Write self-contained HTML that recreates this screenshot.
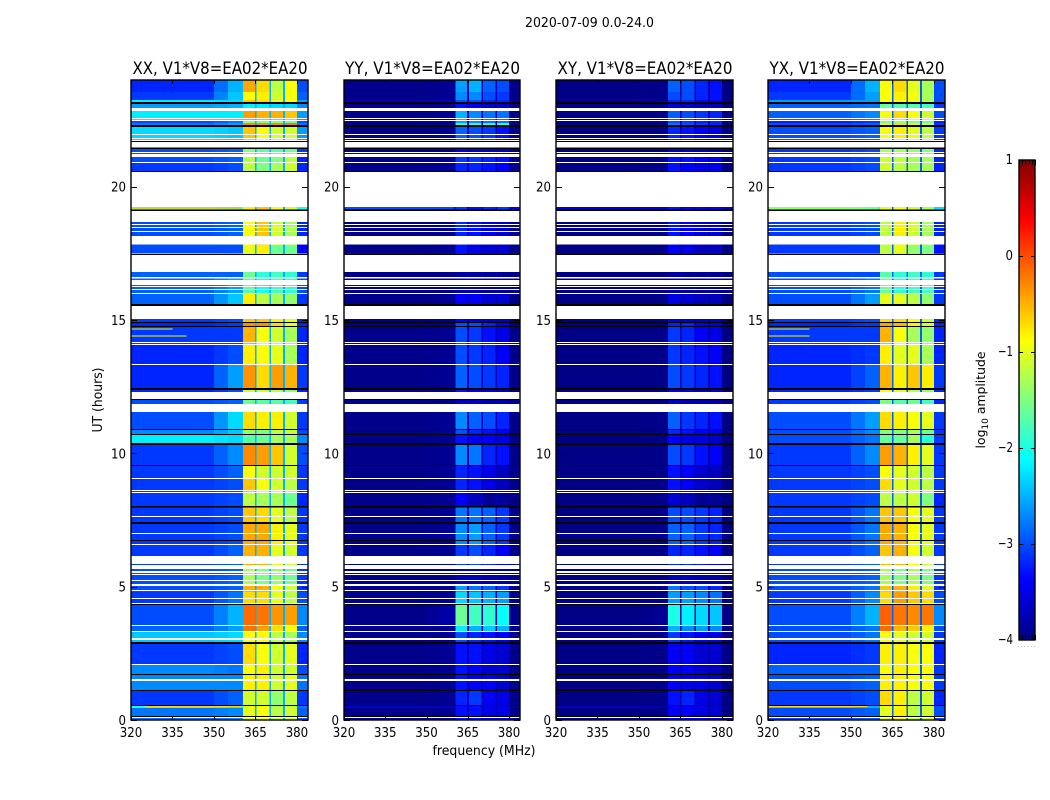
<!DOCTYPE html>
<html lang="en">
<head>
<meta charset="utf-8">
<title>2020-07-09 0.0-24.0</title>
<style>
html,body{margin:0;padding:0;background:#fff;width:1050px;height:800px;overflow:hidden}
svg{display:block}
text{font-family:"DejaVu Sans","Liberation Sans",sans-serif;fill:#000}
</style>
</head>
<body>
<svg id="chart" xmlns="http://www.w3.org/2000/svg" width="1050" height="800" viewBox="0 0 1050 800">
<text x="589.5" y="27" font-size="13" text-anchor="middle" textLength="129" lengthAdjust="spacingAndGlyphs">2020-07-09 0.0-24.0</text>
<text transform="translate(102,400) rotate(-90)" font-size="13" text-anchor="middle" textLength="65" lengthAdjust="spacingAndGlyphs">UT (hours)</text>
<text x="484" y="755" font-size="13" text-anchor="middle" textLength="103" lengthAdjust="spacingAndGlyphs">frequency (MHz)</text>
<text transform="translate(985,400) rotate(-90)" font-size="12.4" text-anchor="middle">log<tspan font-size="9" dy="3">10</tspan><tspan dy="-3"> amplitude</tspan></text>
</svg>
<script>
// ---- Chart data ----
const panelTitles = ['XX, V1*V8=EA02*EA20','YY, V1*V8=EA02*EA20','XY, V1*V8=EA02*EA20','YX, V1*V8=EA02*EA20'];
const panelNames = ['xx','yy','xy','yx'];
const xTicks = [320,335,350,365,380];
const yTicks = [0,5,10,15,20];
const colorTicks = [1,0,-1,-2,-3,-4];
const colorTickLabels = ['1','0','\u22121','\u22122','\u22123','\u22124'];
// frequency bins: background, shoulder, band edge, four sub-bands with one-channel gaps, upper tail
const freqEdges = [320,350,355,360.5,364.8,365.4,370,370.6,375,375.6,380,384];
// sub-band gap level per panel (log10 amplitude)
const gapLevels = [-2.5,-3.7,-3.8,-2.9];
// top edge (UT hours) of each time segment, last entry closes the range
const utEdges = [24,23.55,23.25,23.18,22.95,22.46,22.39,22.31,21.68,21.11,20.89,19.24,19.13,17.81,17.51,17.44,16.58,15.98,15.53,14.89,14.74,14.06,13.31,12.38,12,11.55,10.88,10.69,10.31,9.53,9.04,8.51,7.99,7.35,6.56,5.81,5.03,4.8,4.31,3.53,3.3,2.85,2.06,1.69,1.09,0.56,0.45,0];
// per segment: background, edge, sub-band 1-4, tail
const xxLevels = [
[-3.2,-2.5,-0.45,-0.7,-1.2,-0.9,-3.0],[-3.1,-2.4,-0.9,-0.8,-1.1,-0.9,-2.9],[-2.2,-2.3,-0.6,-0.7,-1.0,-0.9,-2.6],[-2.6,-2.5,-2.2,-2.2,-2.3,-2.3,-2.7],
[-2.2,-2.2,-0.4,-0.5,-0.5,-0.6,-2.6],[-3.0,-2.8,-1.5,-1.5,-1.5,-1.6,-3.0],[-2.8,-2.6,-0.3,-0.3,-0.3,-0.2,-2.8],[-2.3,-2.4,-0.6,-0.9,-1.1,-1.1,-2.6],
[-3.0,-2.9,-1.5,-1.7,-1.7,-1.6,-3.1],[-3.0,-2.9,-1.2,-1.6,-1.5,-1.2,-3.2],[-3.1,-3.0,-1.2,-1.5,-1.3,-1.1,-3.2],[-1.5,-1.7,-0.8,-0.6,-0.9,-1.1,-2.0],
[-3.0,-2.9,-0.9,-0.6,-1.1,-1.3,-3.2],[-3.0,-3.0,-1.0,-0.8,-1.6,-1.6,-3.4],[-2.2,-2.3,-1.0,-0.9,-1.4,-1.5,-2.6],[-2.9,-2.9,-1.6,-1.9,-1.8,-1.9,-3.1],
[-2.9,-2.6,-1.7,-2.0,-1.8,-1.9,-3.0],[-2.9,-2.4,-0.8,-1.2,-1.3,-1.4,-3.1],[-3.1,-3.0,-0.6,-0.6,-0.8,-1.0,-3.2],[-3.2,-3.1,-0.3,-0.3,-0.7,-1.0,-3.2],
[-3.1,-3.1,-0.5,-0.9,-1.1,-1.3,-3.2],[-3.2,-3.0,-0.8,-0.9,-1.0,-1.3,-3.2],[-3.2,-2.6,-0.35,-0.7,-0.4,-0.5,-3.1],[-3.2,-3.0,-1.1,-1.1,-1.2,-1.4,-3.2],
[-3.0,-2.9,-1.6,-1.7,-1.7,-1.8,-3.1],[-3.0,-2.3,-0.7,-0.8,-0.8,-1.1,-3.1],[-2.7,-2.4,-1.4,-1.5,-1.2,-1.2,-3.0],[-2.2,-2.3,-1.7,-1.6,-1.3,-1.3,-2.7],
[-3.1,-2.7,-0.3,-0.4,-0.6,-1.1,-3.0],[-3.1,-2.9,-0.9,-1.1,-1.1,-1.1,-3.1],[-3.1,-3.0,-0.6,-0.9,-1.1,-1.2,-3.1],[-3.1,-3.0,-1.2,-1.3,-1.3,-1.6,-3.2],
[-3.1,-3.0,-0.6,-0.7,-1.0,-1.2,-3.1],[-3.1,-3.0,-0.45,-0.45,-0.8,-1.0,-3.1],[-3.1,-2.9,-0.5,-0.5,-1.0,-1.1,-3.1],[-3.0,-2.9,-1.3,-1.5,-1.4,-1.6,-3.1],
[-3.0,-2.9,-0.5,-0.5,-0.9,-1.1,-3.1],[-3.1,-2.8,-0.7,-0.7,-1.0,-1.2,-3.0],[-3.0,-2.5,-0.15,-0.2,-0.35,-0.4,-2.7],[-2.9,-2.6,-0.2,-0.4,-0.7,-0.9,-2.9],
[-2.4,-2.3,-0.9,-0.9,-1.2,-1.3,-2.7],[-3.1,-3.0,-0.7,-0.9,-1.1,-1.0,-3.2],[-2.7,-2.8,-0.9,-0.8,-1.1,-1.1,-3.0],[-2.7,-2.7,-0.8,-0.8,-1.1,-1.0,-2.8],
[-3.1,-2.9,-1.1,-1.1,-1.4,-1.2,-3.1],[-2.0,-2.2,-1.0,-0.9,-1.3,-1.2,-2.8],[-2.8,-2.7,-1.0,-0.9,-1.2,-1.1,-2.9]];
const yyLevels = [
[-3.95,-3.9,-2.6,-2.5,-2.9,-3.0,-3.95],[-3.95,-3.9,-2.7,-2.7,-3.0,-3.1,-3.95],[-3.7,-3.7,-3.0,-3.0,-3.2,-3.2,-3.9],[-3.95,-3.9,-3.3,-3.4,-3.6,-3.6,-3.95],
[-3.95,-3.9,-2.5,-2.7,-2.8,-2.8,-3.95],[-3.95,-3.9,-2.6,-2.7,-2.8,-2.8,-3.95],[-3.95,-3.9,-1.9,-1.9,-1.9,-1.9,-3.95],[-3.95,-3.9,-2.9,-3.0,-3.1,-3.3,-3.95],
[-3.95,-3.9,-3.4,-3.5,-3.6,-3.6,-3.95],[-3.95,-3.9,-3.1,-3.1,-3.2,-3.3,-3.95],[-3.95,-3.9,-3.2,-3.2,-3.3,-3.4,-3.95],[-3.4,-3.4,-3.1,-3.3,-3.2,-3.1,-3.5],
[-3.95,-3.9,-3.2,-3.3,-3.5,-3.6,-3.95],[-3.95,-3.9,-3.3,-3.5,-3.6,-3.6,-3.95],[-3.7,-3.7,-3.3,-3.4,-3.4,-3.4,-3.9],[-3.95,-3.95,-3.8,-3.85,-3.85,-3.9,-3.95],
[-3.95,-3.95,-3.8,-3.8,-3.9,-3.9,-3.95],[-3.95,-3.9,-3.4,-3.4,-3.6,-3.6,-3.95],[-3.95,-3.9,-3.4,-3.5,-3.6,-3.7,-3.95],[-3.95,-3.9,-3.0,-3.0,-3.2,-3.4,-3.95],
[-3.95,-3.9,-3.0,-3.1,-3.3,-3.5,-3.95],[-3.95,-3.9,-3.0,-3.1,-3.2,-3.4,-3.95],[-3.95,-3.9,-2.9,-3.0,-3.1,-3.2,-3.95],[-3.95,-3.9,-3.3,-3.4,-3.5,-3.6,-3.95],
[-3.95,-3.95,-3.7,-3.7,-3.8,-3.8,-3.95],[-3.95,-3.9,-2.7,-2.9,-3.0,-3.2,-3.95],[-3.95,-3.9,-3.0,-3.2,-3.3,-3.4,-3.95],[-3.95,-3.9,-3.3,-3.4,-3.4,-3.5,-3.95],
[-3.95,-3.9,-2.7,-2.8,-3.2,-3.3,-3.95],[-3.95,-3.9,-3.2,-3.3,-3.5,-3.7,-3.95],[-3.95,-3.9,-3.2,-3.3,-3.5,-3.7,-3.95],[-3.95,-3.9,-3.4,-3.7,-3.9,-3.9,-3.95],
[-3.95,-3.9,-2.8,-2.8,-2.9,-3.1,-3.95],[-3.95,-3.9,-2.7,-2.6,-2.9,-3.1,-3.95],[-3.95,-3.9,-3.1,-3.0,-3.2,-3.4,-3.95],[-3.95,-3.95,-3.7,-3.7,-3.8,-3.8,-3.95],
[-3.95,-3.9,-2.6,-2.8,-2.9,-3.1,-3.95],[-3.95,-3.9,-2.3,-2.4,-2.5,-2.6,-3.95],[-3.95,-3.8,-1.6,-1.8,-1.9,-2.1,-3.95],[-3.95,-3.9,-2.2,-2.5,-2.4,-2.5,-3.95],
[-3.95,-3.9,-3.0,-3.2,-3.3,-3.4,-3.95],[-3.95,-3.9,-3.3,-3.3,-3.5,-3.6,-3.95],[-3.95,-3.9,-3.3,-3.4,-3.6,-3.6,-3.95],[-3.95,-3.9,-3.3,-3.4,-3.4,-3.6,-3.95],
[-3.95,-3.9,-3.2,-3.1,-3.4,-3.5,-3.95],[-3.6,-3.7,-3.3,-3.3,-3.5,-3.5,-3.9],[-3.95,-3.9,-3.3,-3.3,-3.5,-3.5,-3.95]];
const xyLevels = [
[-3.97,-3.95,-2.9,-3.0,-3.2,-3.3,-3.97],[-3.97,-3.95,-3.0,-3.0,-3.2,-3.3,-3.97],[-3.85,-3.85,-3.2,-3.2,-3.4,-3.4,-3.95],[-3.97,-3.95,-3.5,-3.6,-3.7,-3.7,-3.97],
[-3.97,-3.95,-2.9,-3.0,-3.1,-3.2,-3.97],[-3.97,-3.95,-3.0,-3.1,-3.2,-3.2,-3.97],[-3.97,-3.95,-2.8,-3.0,-3.1,-3.2,-3.97],[-3.97,-3.95,-3.2,-3.3,-3.4,-3.5,-3.97],
[-3.97,-3.95,-3.6,-3.6,-3.7,-3.8,-3.97],[-3.97,-3.95,-3.3,-3.3,-3.4,-3.5,-3.97],[-3.97,-3.95,-3.3,-3.4,-3.5,-3.5,-3.97],[-3.6,-3.6,-3.3,-3.4,-3.4,-3.4,-3.7],
[-3.97,-3.95,-3.3,-3.4,-3.6,-3.6,-3.97],[-3.97,-3.95,-3.4,-3.5,-3.7,-3.7,-3.97],[-3.8,-3.8,-3.4,-3.5,-3.6,-3.6,-3.95],[-3.97,-3.97,-3.85,-3.9,-3.9,-3.9,-3.97],
[-3.97,-3.97,-3.85,-3.9,-3.9,-3.9,-3.97],[-3.97,-3.95,-3.5,-3.6,-3.7,-3.7,-3.97],[-3.97,-3.95,-3.5,-3.6,-3.7,-3.7,-3.97],[-3.97,-3.95,-3.2,-3.2,-3.4,-3.5,-3.97],
[-3.97,-3.95,-3.1,-3.2,-3.4,-3.5,-3.97],[-3.97,-3.95,-3.1,-3.2,-3.3,-3.4,-3.97],[-3.97,-3.95,-3.0,-3.1,-3.2,-3.3,-3.97],[-3.97,-3.95,-3.4,-3.5,-3.6,-3.6,-3.97],
[-3.97,-3.97,-3.7,-3.8,-3.8,-3.85,-3.97],[-3.97,-3.95,-2.9,-3.1,-3.2,-3.3,-3.97],[-3.97,-3.95,-3.2,-3.3,-3.4,-3.5,-3.97],[-3.97,-3.95,-3.4,-3.5,-3.5,-3.6,-3.97],
[-3.97,-3.95,-3.0,-3.1,-3.3,-3.4,-3.97],[-3.97,-3.95,-3.3,-3.4,-3.6,-3.7,-3.97],[-3.97,-3.95,-3.3,-3.4,-3.6,-3.7,-3.97],[-3.97,-3.95,-3.6,-3.7,-3.9,-3.9,-3.97],
[-3.97,-3.95,-3.0,-3.0,-3.1,-3.2,-3.97],[-3.97,-3.95,-2.9,-2.9,-3.1,-3.2,-3.97],[-3.97,-3.95,-3.2,-3.2,-3.3,-3.4,-3.97],[-3.97,-3.97,-3.7,-3.7,-3.8,-3.8,-3.97],
[-3.97,-3.95,-2.8,-3.0,-3.0,-3.2,-3.97],[-3.97,-3.95,-2.6,-2.6,-2.7,-2.8,-3.97],[-3.97,-3.9,-2.0,-2.2,-2.3,-2.4,-3.97],[-3.97,-3.95,-2.5,-2.7,-2.6,-2.7,-3.97],
[-3.97,-3.95,-3.1,-3.3,-3.4,-3.5,-3.97],[-3.97,-3.95,-3.4,-3.4,-3.6,-3.6,-3.97],[-3.97,-3.95,-3.4,-3.4,-3.6,-3.7,-3.97],[-3.97,-3.95,-3.4,-3.5,-3.5,-3.6,-3.97],
[-3.97,-3.95,-3.3,-3.2,-3.5,-3.6,-3.97],[-3.7,-3.8,-3.4,-3.4,-3.5,-3.6,-3.95],[-3.97,-3.95,-3.4,-3.4,-3.5,-3.6,-3.97]];
const yxLevels = [
[-3.2,-2.5,-0.9,-0.7,-1.0,-1.3,-3.0],[-3.1,-2.6,-0.9,-0.8,-0.9,-1.3,-3.0],[-2.6,-2.6,-0.9,-0.9,-1.0,-1.3,-3.0],[-2.9,-2.8,-1.6,-1.7,-1.7,-1.8,-3.1],
[-2.9,-2.7,-0.9,-0.7,-0.9,-1.1,-3.0],[-3.2,-3.1,-1.5,-1.4,-1.5,-1.6,-3.2],[-3.0,-2.9,-0.8,-0.7,-0.8,-1.0,-3.1],[-3.0,-2.9,-0.9,-0.8,-1.0,-1.2,-3.1],
[-3.1,-3.0,-1.3,-1.3,-1.4,-1.5,-3.2],[-3.1,-3.0,-1.1,-1.2,-1.3,-1.3,-3.2],[-3.1,-3.0,-1.1,-1.2,-1.3,-1.3,-3.2],[-1.8,-2.0,-1.0,-0.9,-1.1,-1.3,-2.3],
[-3.1,-3.0,-1.2,-0.8,-1.1,-1.3,-3.2],[-3.1,-3.1,-1.2,-1.0,-1.4,-1.5,-3.3],[-2.6,-2.6,-1.1,-1.1,-1.4,-1.5,-2.9],[-3.0,-3.0,-1.7,-1.9,-1.8,-1.9,-3.1],
[-3.0,-2.8,-1.6,-1.9,-1.8,-1.8,-3.1],[-3.0,-2.6,-1.0,-1.0,-1.2,-1.4,-3.1],[-3.1,-3.0,-0.7,-0.7,-0.9,-1.1,-3.2],[-3.2,-3.1,-0.4,-0.5,-0.8,-1.1,-3.2],
[-3.1,-3.1,-0.5,-0.9,-1.3,-1.4,-3.2],[-3.2,-3.1,-0.8,-1.0,-1.0,-1.3,-3.2],[-3.2,-2.9,-0.5,-0.8,-0.6,-0.8,-3.1],[-3.2,-3.1,-0.9,-1.0,-1.2,-1.4,-3.2],
[-3.1,-3.0,-1.5,-1.7,-1.6,-1.8,-3.2],[-3.0,-2.6,-0.7,-0.8,-0.9,-1.0,-3.1],[-3.0,-2.7,-1.5,-1.5,-1.3,-1.6,-3.1],[-3.0,-2.8,-1.6,-1.6,-1.3,-1.9,-3.1],
[-3.1,-2.7,-0.4,-0.5,-0.8,-1.0,-3.1],[-3.1,-3.0,-0.9,-1.0,-1.1,-1.2,-3.1],[-3.1,-3.0,-0.7,-1.0,-1.1,-1.2,-3.1],[-3.1,-3.0,-1.2,-1.2,-1.1,-1.5,-3.2],
[-3.1,-2.8,-0.6,-0.6,-0.9,-1.0,-3.1],[-3.1,-2.8,-0.45,-0.5,-0.9,-1.0,-3.1],[-3.1,-2.9,-0.6,-0.5,-0.9,-1.1,-3.1],[-3.0,-2.9,-1.3,-1.5,-1.3,-1.5,-3.1],
[-3.0,-2.8,-0.6,-0.5,-0.8,-1.0,-3.1],[-3.1,-2.7,-0.7,-0.4,-0.6,-0.7,-3.0],[-3.0,-2.5,-0.1,-0.2,-0.3,-0.2,-2.7],[-3.0,-2.8,-0.15,-0.5,-0.6,-0.8,-3.0],
[-3.0,-2.8,-0.9,-1.0,-1.1,-1.1,-3.1],[-3.2,-3.1,-0.8,-0.8,-0.9,-0.9,-3.2],[-2.9,-2.9,-0.9,-0.8,-0.9,-0.9,-3.1],[-3.0,-2.9,-0.8,-0.8,-0.9,-0.9,-3.1],
[-3.1,-3.0,-0.7,-0.8,-1.2,-1.1,-3.2],[-2.3,-2.5,-1.0,-0.9,-1.2,-1.1,-3.0],[-3.0,-2.9,-1.0,-0.8,-1.2,-1.1,-3.0]];
// narrow-band streaks: panel index, UT, start and stop frequency, level
const streakPanels = [0,0,0,0,3,3,3,3,1];
const streakUt = [14.66,14.4,19.2,0.5,14.66,14.4,19.2,0.5,19.2];
const streakStart = [320,320,320,325,320,320,320,320,320];
const streakEnd = [335,340,360,360,335,335,360,356,360];
const streakLevels = [-1.0,-0.9,-0.5,-0.7,-1.0,-0.9,-1.1,-0.7,-2.6];
// flagged (blank) and bad (black) UT intervals, stored as top,bottom pairs
const flagTops = [22.95,22.58,22.5,21.98,21.83,21.75,21.68,21.3,21.22,20.93,20.55,19.09,18.6,18.49,18.34,18.15,17.44,16.61,16.5,16.28,16.16,16.01,15.53,14.18,14.1,13.35,12.3,11.85,9.08,8.63,8.55,7.65,7.01,6.6,6.15,5.81,5.59,5.48,5.25,5.1,4.88,4.58,4.39,3.56,3.34,3.08,2.1,1.54,0.11];
const flagBottoms = [22.84,22.54,22.46,21.94,21.79,21.71,21.47,21.26,21.11,20.89,19.24,18.68,18.56,18.45,18.3,17.83,16.8,16.56,16.31,16.24,16.13,15.98,15.04,14.14,14.06,13.31,12.04,11.55,9.04,8.59,8.51,7.61,6.98,6.56,5.85,5.66,5.51,5.44,5.21,5.03,4.84,4.54,4.35,3.53,3.3,3,2.06,1.46,0.08];
const badTops = [23.18,22.31,21.71,21.47,20.59,19.14,17.48,15.6,14.93,14.78,12.45,12.04,10.91,10.73,10.39,9.56,8.03,7.43,6.75,4.35,2.93,1.73,1.13,0.56,0.15];
const badBottoms = [23.1,22.24,21.68,21.41,20.55,19.09,17.44,15.53,14.89,14.74,12.38,12,10.88,10.69,10.31,9.53,7.97,7.35,6.71,4.31,2.85,1.69,1.09,0.53,0.11];

const panelLevels = [xxLevels,yyLevels,xyLevels,yxLevels];
// bin index -> column in a level row; -1 = sub-band gap, -2 = shoulder between background and edge
const binColumns = [0,-2,1,2,-1,3,-1,4,-1,5,6];

// ---- Layout ----
const svg = document.getElementById('chart');
const NS = 'http://www.w3.org/2000/svg';
const plotTop = 80, plotBottom = 720;
const panelLefts = [131,344,556,768];
const panelRights = [308,520,733,945];
const cbLeft = 1019, cbRight = 1035, cbTop = 160, cbBottom = 640;
const levelMin = -4, levelMax = 1;
const glyphWidth = 7.5;

function yScale(ut){ return plotBottom - (ut/24)*(plotBottom-plotTop); }
function xScale(p,f){ return panelLefts[p] + ((f-320)/64)*(panelRights[p]-panelLefts[p]); }
function cbScale(v){ return cbBottom - ((v-levelMin)/(levelMax-levelMin))*(cbBottom-cbTop); }
function chan(c){ return Math.round(255*Math.max(0,Math.min(1,c))); }
function jet(v){
  const t = Math.max(0,Math.min(1,(v-levelMin)/(levelMax-levelMin)));
  return 'rgb('+chan(1.5-Math.abs(4*t-3))+','+chan(1.5-Math.abs(4*t-2))+','+chan(1.5-Math.abs(4*t-1))+')';
}
function binValue(row,col,p){
  if(col === -1) return gapLevels[p];
  if(col === -2) return (row[0]+row[1])/2;
  return row[col];
}
function node(tag,parent){ const e = document.createElementNS(NS,tag); parent.appendChild(e); return e; }
function box(parent,x0,y0,x1,y1,fill){
  const r = node('rect',parent);
  r.setAttribute('x',x0); r.setAttribute('y',y0);
  r.setAttribute('width',Math.max(0,x1-x0)); r.setAttribute('height',Math.max(0,y1-y0));
  r.setAttribute('fill',fill);
  r.setAttribute('shape-rendering','crispEdges');
  return r;
}
function line(parent,x0,y0,x1,y1){
  const l = node('line',parent);
  l.setAttribute('x1',x0); l.setAttribute('y1',y0); l.setAttribute('x2',x1); l.setAttribute('y2',y1);
  l.setAttribute('stroke','#000'); l.setAttribute('stroke-width','1');
  l.setAttribute('shape-rendering','crispEdges');
  return l;
}
function label(parent,x,y,size,anchor,str,width){
  const t = node('text',parent);
  t.setAttribute('x',x); t.setAttribute('y',y);
  t.setAttribute('font-size',size); t.setAttribute('text-anchor',anchor);
  t.setAttribute('textLength',width);
  t.setAttribute('lengthAdjust','spacingAndGlyphs');
  t.textContent = str;
  return t;
}

panelNames.forEach(function(name,p){
  const left = panelLefts[p], right = panelRights[p];
  const g = node('g',svg);
  
  

  const title = label(g,(left+right)/2+0.5,74,16.4,'middle',panelTitles[p],175);
  
  

  const levels = panelLevels[p];
  levels.forEach(function(row,s){
    const y0 = yScale(utEdges[s]), y1 = yScale(utEdges[s+1]);
    binColumns.forEach(function(col,b){
      const value = binValue(row,col,p);
      const cell = box(g,xScale(p,freqEdges[b]),y0,xScale(p,freqEdges[b+1]),y1,jet(value));
      
      
    });
  });

  streakUt.forEach(function(ut,i){
    if(streakPanels[i] !== p) return;
    const st = box(g,xScale(p,streakStart[i]),yScale(ut)-0.5,xScale(p,streakEnd[i]),yScale(ut)+0.5,jet(streakLevels[i]));
    
    
  });

  flagTops.forEach(function(ut,i){
    const f = box(g,left,yScale(ut),right,yScale(flagBottoms[i]),'#fff');
    
    
  });
  badTops.forEach(function(ut,i){
    const k = box(g,left,yScale(ut),right,yScale(badBottoms[i]),'#000');
    
    
  });

  xTicks.forEach(function(f){
    const x = Math.round(xScale(p,f))+0.5;
    const tickB = line(g,x,plotBottom,x,plotBottom-4);
    
    
    const tickT = line(g,x,plotTop,x,plotTop+4);
    
    
    const text = String(f);
    const lab = label(g,xScale(p,f),737,13.7,'middle',text,text.length*glyphWidth);
    
    
  });
  yTicks.forEach(function(ut){
    const y = Math.round(yScale(ut))+0.5;
    const tickL = line(g,left,y,left+6,y);
    
    
    const tickR = line(g,right,y,right-6,y);
    
    
    const text = String(ut);
    const lab = label(g,left-5,yScale(ut)+5,13.7,'end',text,text.length*glyphWidth);
    
    
  });

  const frame = node('rect',g);
  frame.setAttribute('x',left); frame.setAttribute('y',plotTop);
  frame.setAttribute('width',right-left); frame.setAttribute('height',plotBottom-plotTop);
  frame.setAttribute('fill','none'); frame.setAttribute('stroke','#000'); frame.setAttribute('stroke-width','1.4');
  
  
});

// ---- Colorbar ----
const cb = node('g',svg);


for(let py = cbTop; py < cbBottom; py++){
  const v = levelMax - ((py+0.5-cbTop)/(cbBottom-cbTop))*(levelMax-levelMin);
  const strip = box(cb,cbLeft,py,cbRight,py+1,jet(v));
  
  
}
colorTicks.forEach(function(v,i){
  const y = Math.round(cbScale(v));
  if(i>0 && i<colorTicks.length-1){
    const tl = line(cb,cbLeft,y+0.5,cbLeft+4,y+0.5);
    
    
    const tr = line(cb,cbRight,y+0.5,cbRight-4,y+0.5);
    
    
  }
  const text = colorTickLabels[i];
  const lab = label(cb,1013,cbScale(v)+4,13.7,'end',text,text.length*glyphWidth);
  
  
});
for(let i = 0; i < 6; i++){
  const x = cbLeft + i*16/5;
  const t1 = line(cb,Math.round(x)+0.5,cbTop,Math.round(x)+0.5,cbTop+5);
  
  
  const t2 = line(cb,Math.round(x)+0.5,cbBottom,Math.round(x)+0.5,cbBottom-5);
  
  
  const dot = box(cb,Math.round(x)-1,646,Math.round(x),647,'#bbb');
  
  
}
const cbFrame = node('rect',cb);
cbFrame.setAttribute('x',cbLeft); cbFrame.setAttribute('y',cbTop);
cbFrame.setAttribute('width',cbRight-cbLeft); cbFrame.setAttribute('height',cbBottom-cbTop);
cbFrame.setAttribute('fill','none'); cbFrame.setAttribute('stroke','#000'); cbFrame.setAttribute('stroke-width','1.4');


</script>
</body>
</html>
